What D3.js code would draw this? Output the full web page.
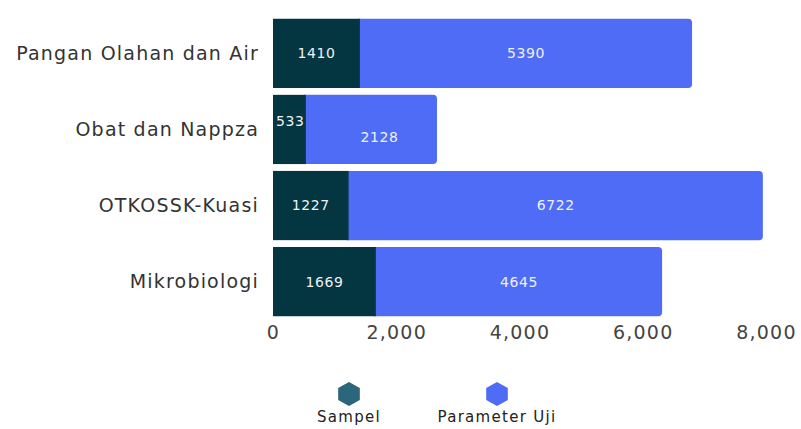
<!DOCTYPE html>
<html>
<head>
  <meta charset="utf-8">
  <script src="https://d3js.org/d3.v7.min.js"></script>
  <style>
    body { margin: 0; background: #fff; }
    text { font-family: "DejaVu Sans", sans-serif; }
  </style>
</head>
<body>
  <div id="chart"></div>
  <script>
    // data
    var categories = ["Pangan Olahan dan Air", "Obat dan Nappza", "OTKOSSK-Kuasi", "Mikrobiologi"];
    var sampel = [1410, 533, 1227, 1669];
    var parameterUji = [5390, 2128, 6722, 4645];
    var xTicks = [0, 2000, 4000, 6000, 8000];
    var seriesNames = ["Sampel", "Parameter Uji"];

    const width = 801, height = 429;
    const colSampel = "#033641", colParam = "#4f6cf6", colLegendSampel = "#2b667c";

    const svg = d3.select("#chart").append("svg")
      .attr("width", width)
      .attr("height", height);

    const x = d3.scaleLinear().domain([0, 8000]).range([273, 766]);
    const y = d3.scaleBand().domain(categories).range([18, 317]).paddingInner(0.09).paddingOuter(0.01);

    const rows = categories.map((c, i) => ({ cat: c, s: sampel[i], p: parameterUji[i] }));

    // parameter uji bars (rounded right end)
    svg.append("g").selectAll("path")
      .data(rows)
      .enter().append("path")
      .attr("fill", colParam)
      .attr("d", d => {
        const x0 = x(d.s) - 2, x1 = x(d.s + d.p), y0 = y(d.cat), h = y.bandwidth(), r = 4;
        return "M" + x0 + "," + y0 + "H" + (x1 - r) + "Q" + x1 + "," + y0 + " " + x1 + "," + (y0 + r) +
          "V" + (y0 + h - r) + "Q" + x1 + "," + (y0 + h) + " " + (x1 - r) + "," + (y0 + h) + "H" + x0 + "Z";
      });

    svg.append("g").selectAll("rect")
      .data(rows)
      .enter().append("rect")
      .attr("fill", colSampel)
      .attr("x", x(0))
      .attr("y", d => y(d.cat))
      .attr("width", d => x(d.s) - x(0))
      .attr("height", y.bandwidth());

    // value labels
    const lbl = svg.append("g").attr("fill", "#eef2f4").attr("font-size", 14)
      .attr("letter-spacing", 0.6).attr("text-anchor", "middle");
    rows.forEach(d => {
      const cy = y(d.cat) + y.bandwidth() / 2;
      const small = x(d.s) - x(0) < 40;
      lbl.append("text")
        .attr("x", small ? x(0) + 3 : (x(0) + x(d.s)) / 2)
        .attr("text-anchor", small ? "start" : "middle")
        .attr("y", small ? cy - 8 : cy)
        .attr("dy", "0.35em")
        .text(d.s);
      lbl.append("text")
        .attr("x", (x(d.s) + x(d.s + d.p)) / 2 + (small ? 8 : 0))
        .attr("y", small ? cy + 8 : cy)
        .attr("dy", "0.35em")
        .text(d.p);
    });

    // category labels
    svg.append("g").selectAll("text")
      .data(categories)
      .enter().append("text")
      .attr("x", 259)
      .attr("y", d => y(d) + y.bandwidth() / 2)
      .attr("dy", "0.35em")
      .attr("text-anchor", "end")
      .attr("font-size", 19)
      .attr("letter-spacing", 1.2)
      .attr("fill", "#333")
      .text(d => d);

    // x axis
    const xAxis = svg.append("g")
      .attr("transform", "translate(0,322)")
      .call(d3.axisBottom(x).tickValues(xTicks).tickFormat(d3.format(",")).tickSize(0));
    xAxis.select(".domain").remove();
    xAxis.selectAll("text")
      .attr("font-family", "DejaVu Sans")
      .attr("font-size", 19)
      .attr("letter-spacing", 1.2)
      .attr("fill", "#444")
      .attr("dy", "0.75em");

    // legend
    const hex = d3.range(6).map(k => {
      const a = Math.PI / 3 * k + Math.PI / 6;
      return [Math.cos(a) * 12.5, Math.sin(a) * 12];
    });
    const legX = [349, 497];
    const leg = svg.append("g").selectAll("g")
      .data(seriesNames)
      .enter().append("g")
      .attr("transform", (d, i) => "translate(" + legX[i] + ",0)");
    leg.append("path")
      .attr("transform", "translate(0,394)")
      .attr("d", "M" + hex.join("L") + "Z")
      .attr("fill", (d, i) => i === 0 ? colLegendSampel : colParam);
    leg.append("text")
      .attr("y", 417)
      .attr("dy", "0.35em")
      .attr("text-anchor", "middle")
      .attr("font-size", 15)
      .attr("letter-spacing", 1.3)
      .attr("fill", "#222")
      .text(d => d);
  </script>
</body>
</html>
